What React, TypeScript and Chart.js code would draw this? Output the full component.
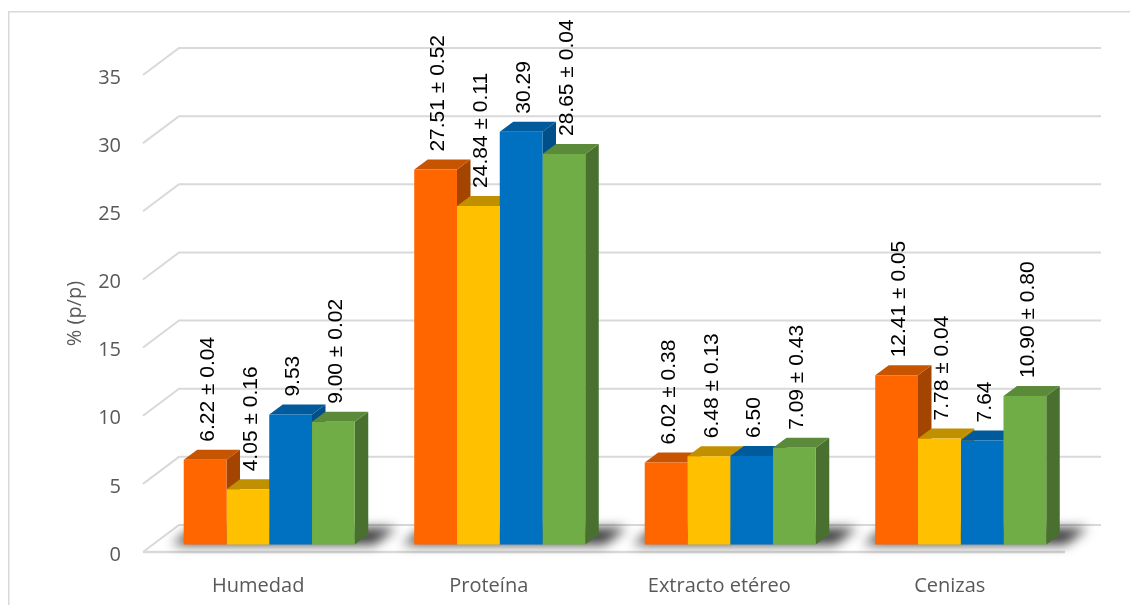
import { useEffect, useRef } from 'react';
import { Chart, registerables } from 'chart.js';

Chart.register(...registerables);

// Composición proximal (% p/p) por muestra
const categories = ['Humedad', 'Proteína', 'Extracto etéreo', 'Cenizas'];
const seriesNames = ['Muestra 1', 'Muestra 2', 'Muestra 3', 'Muestra 4'];
const valuesA = [6.22, 27.51, 6.02, 12.41];
const valuesB = [4.05, 24.84, 6.48, 7.78];
const valuesC = [9.53, 30.29, 6.5, 7.64];
const valuesD = [9.0, 28.65, 7.09, 10.9];
const errorsA = [0.04, 0.52, 0.38, 0.05];
const errorsB = [0.16, 0.11, 0.13, 0.04];
const errorsC = [null, null, null, null];
const errorsD = [0.02, 0.04, 0.43, 0.8];
const yMin = 0;
const yMax = 35;
const yStep = 5;
const yTitle = '% (p/p)';

const seriesValues = [valuesA, valuesB, valuesC, valuesD];
const seriesErrors = [errorsA, errorsB, errorsC, errorsD];

const frontColors = ['#FF6600', '#FFC000', '#0070C0', '#70AD47'];
const topColors = ['#C75400', '#C09000', '#005A9C', '#5B8A3A'];
const sideColors = ['#A34500', '#A67D00', '#004F88', '#4A7030'];

const AXIS_FONT = '"Open Sans", "Noto Sans", sans-serif';
const LABEL_FONT = '"Liberation Sans Narrow", "Arial Narrow", "Liberation Sans", sans-serif';
const GRID = '#d9d9d9';
const TEXT = '#595959';

// oblique projection offsets
const WALL = { dx: 36, dy: -27 };
const PLANE = { dx: 11, dy: -7.5 };
const DEPTH = { dx: 13.5, dy: -10 };

function labelFor(v: number, e: number | null) {
  return e == null ? v.toFixed(2) : `${v.toFixed(2)} ± ${e.toFixed(2)}`;
}

const depthPlugin = {
  id: 'depth3d',
  beforeDatasetsDraw(chart: any) {
    const { ctx, chartArea: a, scales } = chart;
    const ys = scales.y;
    ctx.save();

    // chart frame
    ctx.strokeStyle = '#d9d9d9';
    ctx.lineWidth = 1.5;
    ctx.beginPath();
    ctx.moveTo(0.75, chart.height);
    ctx.lineTo(0.75, 3.75);
    ctx.lineTo(chart.width, 3.75);
    ctx.stroke();

    // back wall + side wall grid lines
    ctx.strokeStyle = GRID;
    ctx.lineWidth = 2;
    ys.ticks.forEach((t: any) => {
      const py = ys.getPixelForValue(t.value);
      ctx.beginPath();
      ctx.moveTo(a.left, py);
      ctx.lineTo(a.left + WALL.dx, py + WALL.dy);
      ctx.lineTo(a.right + WALL.dx, py + WALL.dy);
      ctx.stroke();
    });
    // floor front edge
    ctx.lineWidth = 2.5;
    ctx.beginPath();
    ctx.moveTo(a.left, a.bottom);
    ctx.lineTo(a.right, a.bottom);
    ctx.stroke();

    const metas = chart.data.datasets.map((_: any, i: number) => chart.getDatasetMeta(i));
    const nCat = chart.data.labels.length;

    // soft floor shadows under each group
    ctx.save();
    ctx.filter = 'blur(6px)';
    ctx.fillStyle = 'rgba(25,25,25,0.85)';
    for (let c = 0; c < nCat; c++) {
      const first = metas[0].data[c];
      const last = metas[metas.length - 1].data[c];
      const gl = first.x - first.width / 2 + PLANE.dx;
      const gr = last.x + last.width / 2 + PLANE.dx + DEPTH.dx;
      const by = first.base + PLANE.dy;
      const backY = a.bottom + WALL.dy + 3;
      const k = WALL.dx / -WALL.dy;
      ctx.beginPath();
      ctx.moveTo(gl - 12, by);
      ctx.lineTo(gr + 6, by);
      ctx.lineTo(gr + 6 + (by - backY) * k, backY);
      ctx.lineTo(gl - 12 + (by - backY) * k, backY);
      ctx.closePath();
      ctx.fill();
    }
    ctx.restore();

    // top and side faces, left to right
    for (let c = 0; c < nCat; c++) {
      for (let d = 0; d < metas.length; d++) {
        const bar = metas[d].data[c];
        const x0 = bar.x - bar.width / 2 + PLANE.dx;
        const x1 = bar.x + bar.width / 2 + PLANE.dx;
        const top = bar.y + PLANE.dy;
        const base = bar.base + PLANE.dy;
        // side
        ctx.fillStyle = sideColors[d];
        ctx.beginPath();
        ctx.moveTo(x1, top);
        ctx.lineTo(x1 + DEPTH.dx, top + DEPTH.dy);
        ctx.lineTo(x1 + DEPTH.dx, base + DEPTH.dy);
        ctx.lineTo(x1, base);
        ctx.closePath();
        ctx.fill();
        // top
        ctx.fillStyle = topColors[d];
        ctx.beginPath();
        ctx.moveTo(x0, top);
        ctx.lineTo(x1, top);
        ctx.lineTo(x1 + DEPTH.dx, top + DEPTH.dy);
        ctx.lineTo(x0 + DEPTH.dx, top + DEPTH.dy);
        ctx.closePath();
        ctx.fill();
      }
    }
    ctx.restore();

    // front faces are drawn by the bar controller on the bar plane
    ctx.save();
    ctx.translate(PLANE.dx, PLANE.dy);
  },
  afterDatasetsDraw(chart: any) {
    const { ctx } = chart;
    ctx.restore();

    // value labels
    ctx.save();
    ctx.fillStyle = '#000000';
    ctx.font = `21px ${LABEL_FONT}`;
    ctx.textAlign = 'left';
    ctx.textBaseline = 'middle';
    chart.data.datasets.forEach((ds: any, d: number) => {
      const meta = chart.getDatasetMeta(d);
      meta.data.forEach((bar: any, c: number) => {
        const text = labelFor(ds.data[c], seriesErrors[d][c]);
        ctx.save();
        ctx.translate(bar.x + PLANE.dx + 3, bar.y + PLANE.dy - 18);
        ctx.rotate(-Math.PI / 2);
        ctx.fillText(text, 0, 0);
        ctx.restore();
      });
    });
    ctx.restore();
  },
  afterDraw(chart: any) {
    const { ctx, chartArea: a } = chart;
    ctx.save();
    ctx.fillStyle = TEXT;
    ctx.font = `20px ${AXIS_FONT}`;
    ctx.textAlign = 'center';
    ctx.textBaseline = 'middle';
    ctx.translate(67, (a.top + a.bottom) / 2);
    ctx.rotate(-Math.PI / 2);
    ctx.fillText(yTitle, 0, 0);
    ctx.restore();
  },
};

export default function App() {
  const canvasRef = useRef<HTMLCanvasElement | null>(null);

  useEffect(() => {
    const canvas = canvasRef.current;
    if (!canvas) return;
    const chart = new Chart(canvas, {
      type: 'bar',
      data: {
        labels: categories,
        datasets: seriesValues.map((vals, i) => ({
          label: seriesNames[i],
          data: vals,
          backgroundColor: frontColors[i],
          borderWidth: 0,
          categoryPercentage: 0.742,
          barPercentage: 1,
          clip: false as any,
        })),
      },
      options: {
        responsive: false,
        maintainAspectRatio: false,
        animation: false,
        devicePixelRatio: 1,
        layout: { padding: { left: 0, top: 67, right: 65, bottom: 0 } },
        plugins: {
          legend: { display: false },
          tooltip: { enabled: false },
        },
        scales: {
          x: {
            grid: { display: false, drawTicks: false },
            border: { display: false },
            ticks: {
              color: TEXT,
              font: { family: AXIS_FONT, size: 20 },
              padding: 22,
              maxRotation: 0,
            },
            afterFit: (s: any) => {
              s.height = 53;
            },
          },
          y: {
            min: yMin,
            max: yMax,
            grid: { display: false, drawTicks: false },
            border: { display: false },
            ticks: {
              stepSize: yStep,
              color: TEXT,
              font: { family: AXIS_FONT, size: 20 },
              padding: 22,
              labelOffset: 3,
            },
            afterFit: (s: any) => {
              s.width = 135;
            },
          },
        },
      },
      plugins: [depthPlugin],
    });
    return () => chart.destroy();
  }, []);

  return (
    <div style={{ width: 1122, height: 597 }}>
      <canvas ref={canvasRef} width={1122} height={597} style={{ display: 'block' }} />
    </div>
  );
}
